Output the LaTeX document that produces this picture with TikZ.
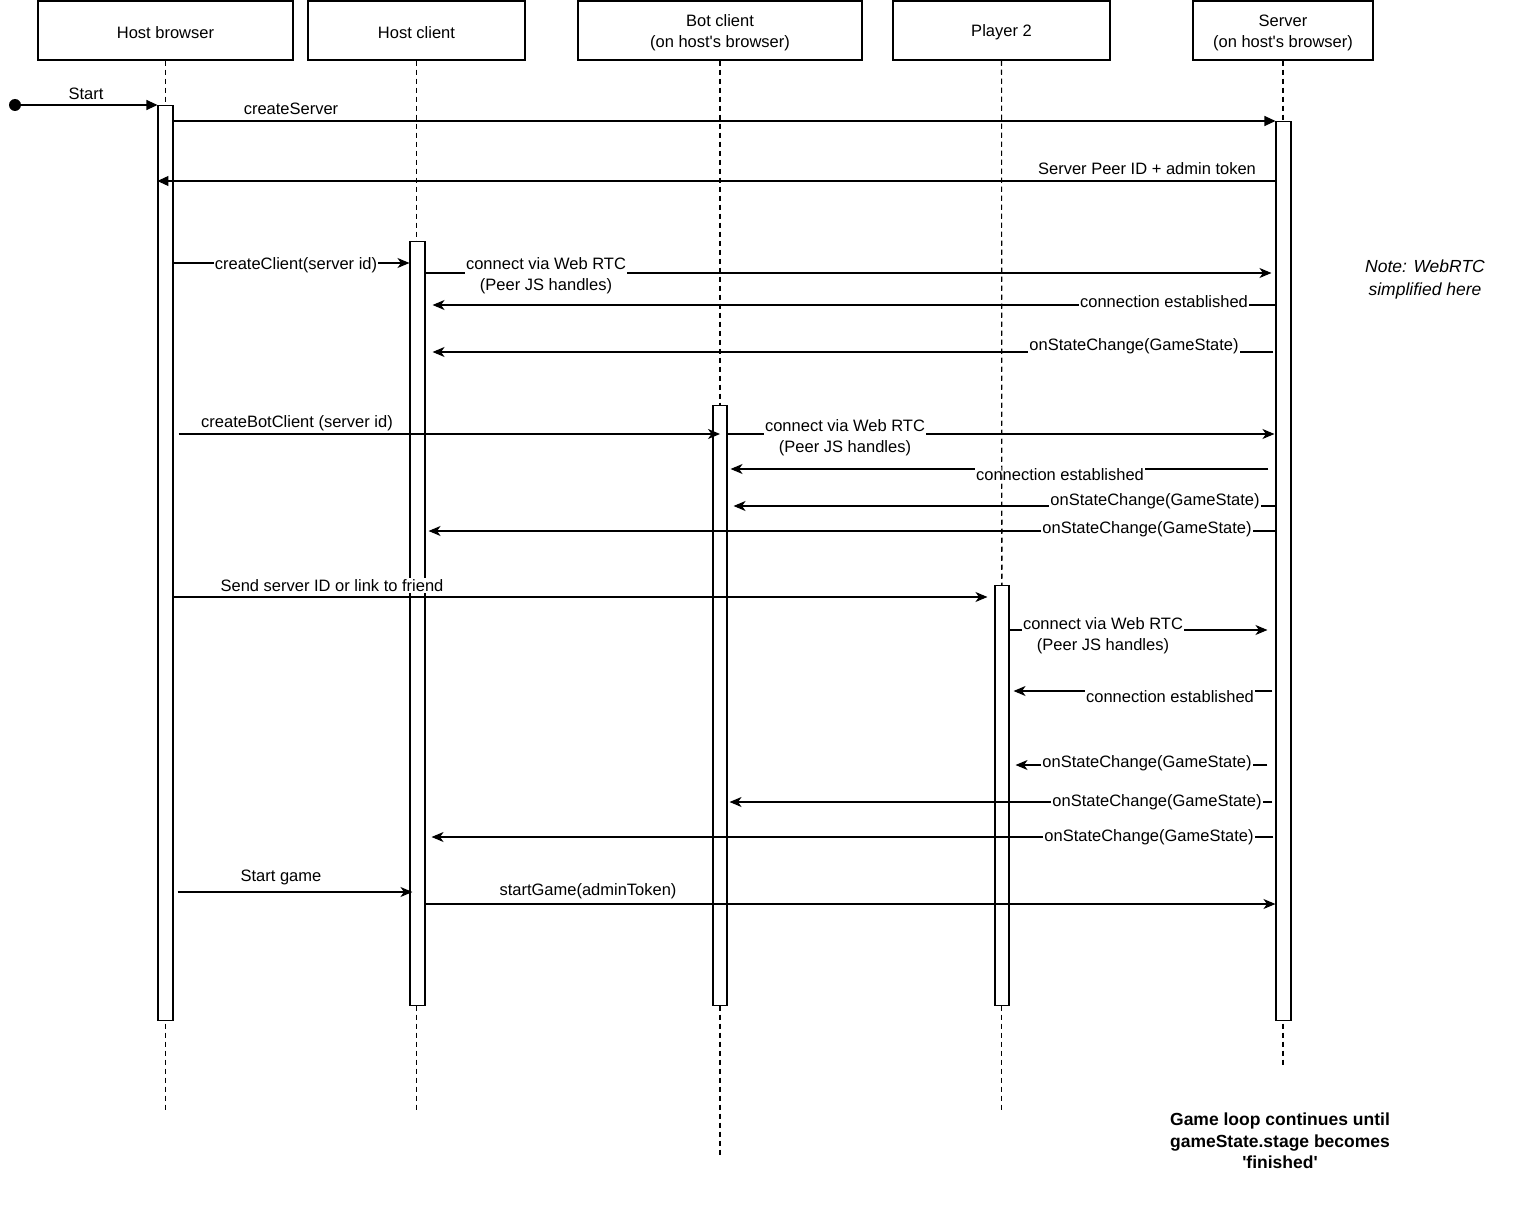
\documentclass[tikz,border=0pt]{standalone}
\usepackage{fontspec}
\setmainfont{Liberation Sans}
\usetikzlibrary{arrows.meta}
\tikzset{
actor/.style={
draw,
line width=1.1pt,
minimum height=59pt,
inner sep=0pt,
align=center,
font=\fontsize{16.5}{21}\selectfont
},
life/.style={
line width=1.1pt,
dash pattern=on 5pt off 4pt
},
bar/.style={
draw,
line width=1.1pt,
fill=white,
minimum width=15pt,
inner sep=0pt,
anchor=north
},
call/.style={
-{Triangle[length=11pt,width=10pt]},
line width=1.1pt
},
msg/.style={
-{Stealth[length=12pt,width=10pt,inset=3.5pt]},
line width=1.1pt
},
lbl/.style={
fill=white,
inner sep=1pt,
yshift=-1.5pt,
align=center,
font=\fontsize{16.5}{21}\selectfont
}
}
\newcommand{\hosts}{(on host\textquotesingle s browser)}
\newcommand{\low}[1]{\raisebox{-2pt}[\height][\depth]{#1}}
\begin{document}
\begin{tikzpicture}[x=1pt,y=-1pt]
\useasboundingbox (0,0) rectangle (1524,1217);

% participants
\node[actor,minimum width=255pt](hb) at (165.5,30.5){\low{Host browser}};
\node[actor,minimum width=217pt](hc) at (416.5,30.5){\low{Host client}};
\node[actor,minimum width=284pt](bc) at (720,30.5){\low{Bot client}\\\low{\hosts}};
\node[actor,minimum width=217pt](p2) at (1001.5,30.5){\low{Player 2}};
\node[actor,minimum width=180pt](sv) at (1283,30.5){\low{Server}\\\low{\hosts}};

% lifelines
\foreach \p/\e in {hb/1110,hc/1110,bc/1155,p2/1110,sv/1065}{
\coordinate (\p-end) at (\p.south |- 0,\e);
\draw[life](\p)--(\p-end);
}

% activation bars
\node[bar,minimum height=915pt](hbA) at (hb.south |- 0,105){};
\node[bar,minimum height=764pt](hcA) at (417.5,241){};
\node[bar,minimum height=600pt,minimum width=14pt](bcA) at (bc.south |- 0,405){};
\node[bar,minimum height=420pt,minimum width=14pt](p2A) at (1002,585){};
\node[bar,minimum height=899pt](svA) at (1283.5,121){};

% messages
\coordinate (go) at (15,105);
\fill (go) circle (6pt);
\draw[call](go)--(hbA.north west);
\draw[call](hbA.east |- 0,121)--(svA.north west);
\draw[call](svA.west |- 0,181)--(hbA.west |- 0,181);

\draw[msg](hbA.east |- 0,263)--(hcA.west |- 0,263);
\draw[msg,shorten >=4pt](hcA.east |- 0,273)--(svA.west |- 0,273);
\draw[msg,shorten >=7pt](svA.west |- 0,305)--(hcA.east |- 0,305);
\draw[msg,shorten <=2pt,shorten >=7pt](svA.west |- 0,352)--(hcA.east |- 0,352);

\draw[msg,shorten <=5pt](hbA.east |- 0,434)--(bcA.center |- 0,434);
\draw[msg,shorten >=1pt](bcA.east |- 0,434)--(svA.west |- 0,434);
\draw[msg,shorten <=7pt,shorten >=3pt](svA.west |- 0,469)--(bcA.east |- 0,469);
\draw[msg,shorten >=6pt](svA.west |- 0,506)--(bcA.east |- 0,506);
\draw[msg,shorten >=3pt](svA.west |- 0,531)--(hcA.east |- 0,531);

\draw[msg,shorten >=7pt](hbA.east |- 0,597)--(p2A.west |- 0,597);
\draw[msg,shorten >=8pt](p2A.east |- 0,630)--(svA.west |- 0,630);
\draw[msg,shorten <=3pt,shorten >=4pt](svA.west |- 0,691)--(p2A.east |- 0,691);
\draw[msg,shorten <=8pt,shorten >=6pt](svA.west |- 0,765)--(p2A.east |- 0,765);
\draw[msg,shorten <=3pt,shorten >=2pt](svA.west |- 0,802)--(bcA.east |- 0,802);
\draw[msg,shorten <=2pt,shorten >=6pt](svA.west |- 0,837)--(hcA.east |- 0,837);

\draw[msg,shorten <=4pt,shorten >=-3pt](hbA.east |- 0,892)--(hcA.west |- 0,892);
\draw[msg](hcA.east |- 0,904)--(svA.west |- 0,904);

% labels
\node[lbl](t1) at (86,92){Start};
\node[lbl](t2) at (291,107){createServer};
\node[lbl](t3) at (1147,167){Server Peer ID + admin token};
\node[lbl](t4) at (296,264){createClient(server id)};
\node[lbl](t5) at (546,274){connect via Web RTC\\(Peer JS handles)};
\node[lbl](t6) at (1164,300){connection established};
\node[lbl](t7) at (1134,345){onStateChange(GameState)};
\node[lbl](t8) at (297,422){createBotClient (server id)};
\node[lbl](t9) at (845,436){connect via Web RTC\\(Peer JS handles)};
\node[lbl](t10) at (1060,473){connection established};
\node[lbl](t11) at (1155,500){onStateChange(GameState)};
\node[lbl](t12) at (1147,528){onStateChange(GameState)};
\node[lbl](t13) at (332,584){Send server ID or link to friend};
\node[lbl](t14) at (1103,634){connect via Web RTC\\(Peer JS handles)};
\node[lbl](t15) at (1170,695){connection established};
\node[lbl](t16) at (1147,762){onStateChange(GameState)};
\node[lbl](t17) at (1157,801){onStateChange(GameState)};
\node[lbl](t18) at (1149,836){onStateChange(GameState)};
\node[lbl](t19) at (281,876){Start game};
\node[lbl](t20) at (588,890){startGame(adminToken)};

% player 2 lifeline sits above the bot labels
\draw[life](p2)--(p2A.north);

% notes
\node[align=center,font=\fontsize{17.5}{23}\selectfont\itshape](note) at (1425,279){Note: WebRTC\\simplified here};
\node[align=center,font=\fontsize{17.5}{21.5}\selectfont\bfseries](loop) at (1280,1141){Game loop continues until\\gameState.stage becomes\\\textquotesingle finished\textquotesingle};
\end{tikzpicture}
\end{document}
